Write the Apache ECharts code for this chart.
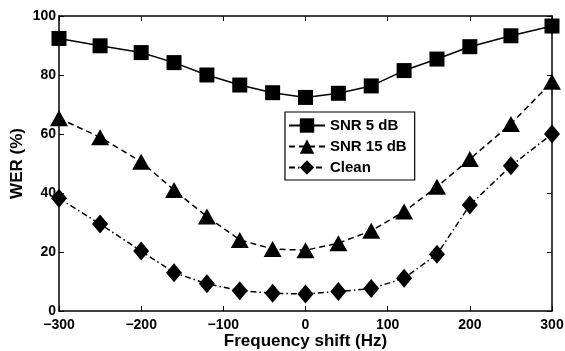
<!DOCTYPE html>
<html><head><meta charset="utf-8">
<script src="https://cdn.jsdelivr.net/npm/echarts@6/dist/echarts.min.js"></script>
<style>html,body{margin:0;padding:0;background:#fff}#c{width:565px;height:351px}</style>
</head><body><div id="c"></div>
<script>
const freqShift = [-300, -250, -200, -160, -120, -80, -40, 0, 40, 80, 120, 160, 200, 250, 300];
const snr5 = [92.4, 89.9, 87.6, 84.2, 80.0, 76.6, 74.0, 72.4, 73.8, 76.3, 81.5, 85.4, 89.6, 93.3, 96.6];
const snr15 = [65.3, 58.9, 50.6, 41.0, 32.0, 24.1, 21.0, 20.6, 23.0, 27.2, 33.7, 42.1, 51.5, 63.4, 77.7];
const clean = [38.2, 29.5, 20.3, 13.0, 9.2, 6.9, 6.0, 5.8, 6.6, 7.6, 11.1, 19.2, 35.9, 49.2, 60.0];
const seriesNames = ['SNR 5 dB', 'SNR 15 dB', 'Clean'];

const font = 'Liberation Sans';
function pairs(ys){ return freqShift.map((x,i)=>[x, ys[i]]); }
const axisCommon = {
  axisLine:{show:true, onZero:false, lineStyle:{color:'#000', width:1.5}},
  axisTick:{show:true, inside:true, length:5, lineStyle:{color:'#000', width:1}},
  splitLine:{show:false}
};
const chart = echarts.init(document.getElementById('c'), null, {renderer:'canvas'});
chart.setOption({
  animation:false,
  backgroundColor:'#fff',
  grid:{left:59, top:16, right:13, bottom:40, containLabel:false, outerBoundsMode:'none'},
  legend:{
    orient:'vertical', left:285, top:112,
    backgroundColor:'#fff', borderColor:'#000', borderWidth:1.2, borderRadius:0,
    padding:[6,8,5,3], itemGap:6, itemWidth:36, itemHeight:18,
    textStyle:{fontFamily:font, fontWeight:'bold', fontSize:15, color:'#000'},
    data:seriesNames
  },
  xAxis:[
    Object.assign({type:'value', min:-300, max:300, interval:100, position:'bottom',
      axisLabel:{color:'#000', fontFamily:font, fontWeight:'bold', fontSize:14, margin:7,
        formatter:v=> v<0 ? '\u2212'+Math.abs(v) : String(v)},
      name:'Frequency shift (Hz)', nameLocation:'middle', nameGap:22, nameMoveOverlap:false,
      nameTextStyle:{color:'#000', fontFamily:font, fontWeight:'bold', fontSize:17}}, axisCommon),
    Object.assign({type:'value', min:-300, max:300, interval:100, position:'top',
      axisLabel:{show:false}}, axisCommon)
  ],
  yAxis:[
    Object.assign({type:'value', min:0, max:100, interval:20, position:'left',
      axisLabel:{color:'#000', fontFamily:font, fontWeight:'bold', fontSize:14, margin:3},
      name:'WER (%)', nameLocation:'middle', nameGap:33, nameMoveOverlap:false,
      nameTextStyle:{color:'#000', fontFamily:font, fontWeight:'bold', fontSize:17}}, axisCommon),
    Object.assign({type:'value', min:0, max:100, interval:20, position:'right',
      axisLabel:{show:false}}, axisCommon)
  ],
  series:[
    {name:seriesNames[0], type:'line', data:pairs(snr5), symbol:'rect', symbolSize:15,
      itemStyle:{color:'#000'}, lineStyle:{color:'#000', width:1.5, type:'solid'}},
    {name:seriesNames[1], type:'line', data:pairs(snr15), symbol:'triangle', symbolSize:[18,16],
      itemStyle:{color:'#000'}, lineStyle:{color:'#000', width:1.5, type:[6,4]}},
    {name:seriesNames[2], type:'line', data:pairs(clean), symbol:'diamond', symbolSize:[16,19],
      itemStyle:{color:'#000'}, lineStyle:{color:'#000', width:1.5, type:[6,3,1.5,3]}}
  ]
});
</script></body></html>
